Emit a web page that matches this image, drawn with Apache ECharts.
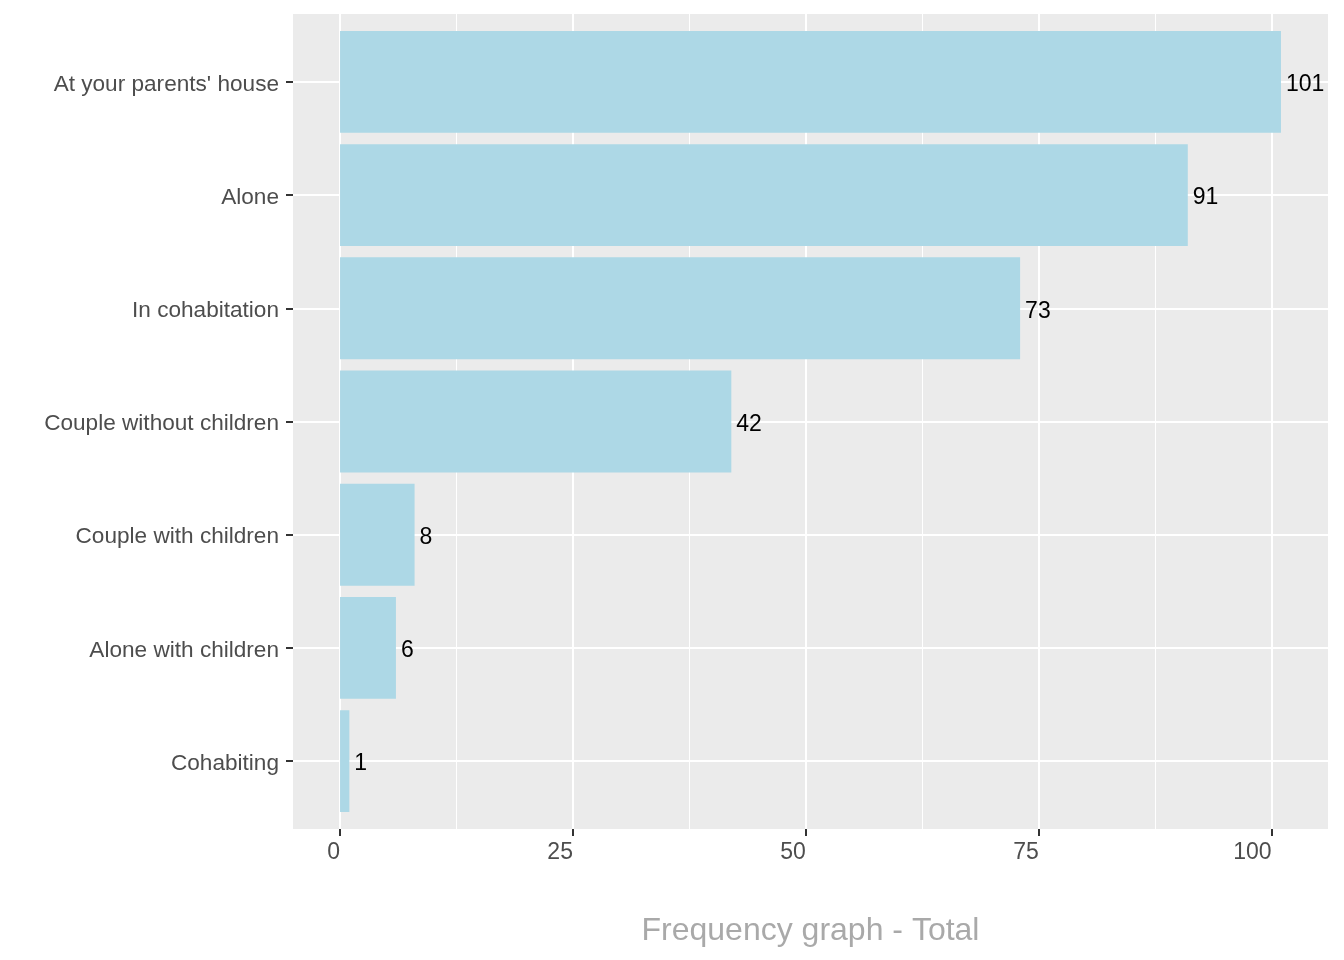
<!DOCTYPE html>
<html>
<head>
<meta charset="utf-8">
<script src="https://cdn.jsdelivr.net/npm/echarts@6/dist/echarts.min.js"></script>
<style>html,body{margin:0;padding:0;background:#fff}#c{width:1344px;height:960px}</style>
</head>
<body>
<div id="c"></div>
<script>
const categories = ["At your parents' house", "Alone", "In cohabitation", "Couple without children", "Couple with children", "Alone with children", "Cohabiting"];
const values = [101, 91, 73, 42, 8, 6, 1];
const xTicks = [0, 25, 50, 75, 100];
const xMinorTicks = [12.5, 37.5, 62.5, 87.5];
const axisTitle = 'Frequency graph - Total';

const FONT = '"Liberation Sans", Arial, sans-serif';
const xMin = -5.05, xMax = 106.05;
const panel = {left: 293, top: 14, width: 1035, height: 815};
const n = categories.length;
const band = panel.height / (n - 1 + 1.2);
const yCenters = categories.map((c, i) => n - i); // value coords on panel y axis (1..n)
const labelNudge = 2.5 / band; // ggplot text sits slightly below the tick

const chart = echarts.init(document.getElementById('c'), null, {renderer: 'canvas'});
chart.setOption({
  backgroundColor: '#ffffff',
  animation: false,
  grid: [
    {left: panel.left, top: panel.top, width: panel.width, height: panel.height,
     show: true, backgroundColor: '#EBEBEB', borderWidth: 0},
    {left: panel.left, top: panel.top + 0.1 * band, width: panel.width, height: panel.height - 0.2 * band,
     show: false}
  ],
  xAxis: [
    {type: 'value', gridIndex: 0, min: xMin, max: xMax,
     name: axisTitle, nameLocation: 'middle', nameGap: 86,
     nameTextStyle: {color: '#A9A9A9', fontSize: 32, fontFamily: FONT},
     axisLine: {show: true, onZero: false, lineStyle: {color: 'rgba(0,0,0,0)'}}, splitLine: {show: false},
     axisTick: {show: true, customValues: xTicks, length: 7, lineStyle: {color: '#333333', width: 2}},
     axisLabel: {show: true, customValues: xTicks, color: '#4D4D4D', fontSize: 23, fontFamily: FONT, margin: 12, align: 'right'}
    },
    {type: 'value', gridIndex: 1, min: xMin, max: xMax, show: false}
  ],
  yAxis: [
    {type: 'value', gridIndex: 0, min: 0.4, max: n + 0.6,
     axisLine: {show: true, onZero: false, lineStyle: {color: 'rgba(0,0,0,0)'}}, splitLine: {show: false},
     axisTick: {show: true, customValues: yCenters, length: 7, lineStyle: {color: '#333333', width: 2}},
     axisLabel: {show: true, customValues: yCenters.map(v => v - labelNudge),
       formatter: v => categories[n - Math.round(v)],
       color: '#4D4D4D', fontSize: 22.6, fontFamily: FONT, margin: 14}
    },
    {type: 'category', gridIndex: 1, data: categories, inverse: true, show: false}
  ],
  series: [
    {type: 'line', xAxisIndex: 0, yAxisIndex: 0, data: [], z: 1, silent: true,
     markLine: {
       z: 1, silent: true, symbol: 'none', label: {show: false}, animation: false,
       data: [
         ...xMinorTicks.map(v => ({xAxis: v, lineStyle: {color: '#ffffff', width: 1, type: 'solid'}})),
         ...xTicks.map(v => ({xAxis: v, lineStyle: {color: '#ffffff', width: 2, type: 'solid'}})),
         ...yCenters.map(v => ({yAxis: v, lineStyle: {color: '#ffffff', width: 2, type: 'solid'}}))
       ]
     }
    },
    {type: 'bar', xAxisIndex: 1, yAxisIndex: 1, data: values, z: 10,
     barCategoryGap: '10%',
     itemStyle: {color: '#ADD8E6'},
     label: {show: true, position: 'right', distance: 5, offset: [0, 3], color: '#000000', fontSize: 23, fontFamily: FONT}
    }
  ]
});
</script>
</body>
</html>
